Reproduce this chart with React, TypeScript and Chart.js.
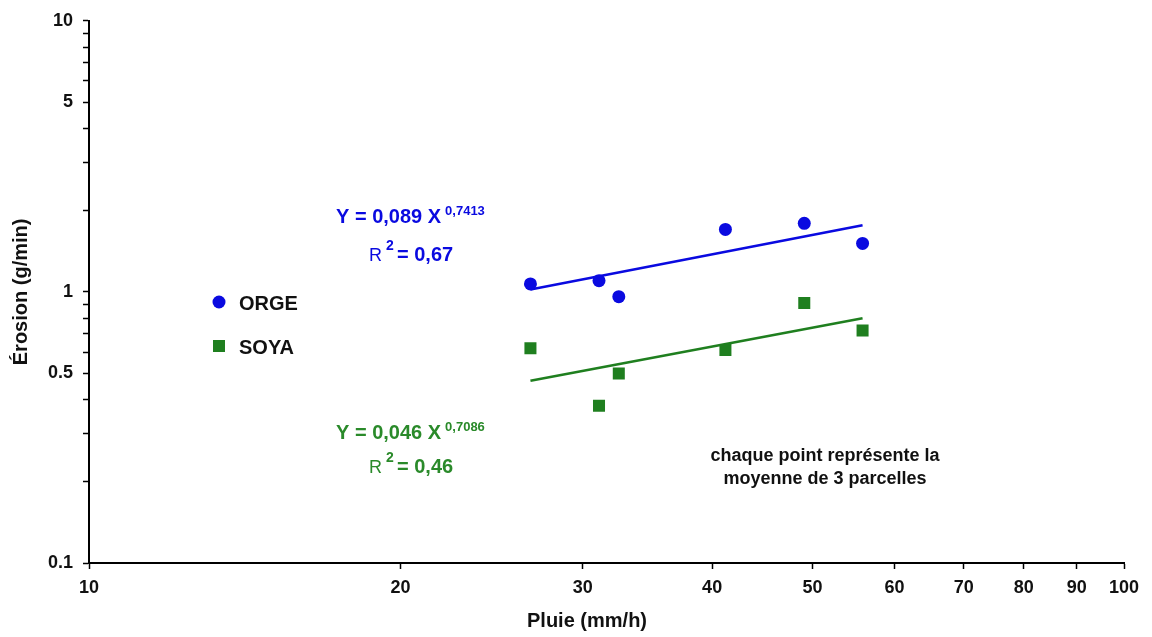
import React, { useEffect, useRef } from 'react';
import { Chart, registerables } from 'chart.js';

Chart.register(...registerables);

// ---- data ----
const rainX = [26.7, 31.1, 32.5, 41.2, 49.1, 55.9];
const orgeY = [1.07, 1.1, 0.96, 1.7, 1.79, 1.51];
const soyaY = [0.62, 0.38, 0.5, 0.61, 0.91, 0.72];
const fitX = [26.7, 55.9];
const orgeFitY = [1.02, 1.76];
const soyaFitY = [0.47, 0.8];
const xTickValues = [10, 20, 30, 40, 50, 60, 70, 80, 90, 100];
const yTickValues = [0.1, 0.2, 0.3, 0.4, 0.5, 0.6, 0.7, 0.8, 0.9, 1, 2, 3, 4, 5, 6, 7, 8, 9, 10];
const yTickLabels = [0.1, 0.5, 1, 5, 10];
const seriesNames = ['ORGE', 'SOYA'];
const orgeEquation = ['Y = 0,089 X', '0,7413', '= 0,67'];
const soyaEquation = ['Y = 0,046 X', '0,7086', '= 0,46'];
const noteLines = ['chaque point représente la', 'moyenne de 3 parcelles'];
const xTitle = 'Pluie (mm/h)';
const yTitle = 'Érosion (g/min)';

const BLUE = '#0a0ae0';
const GREEN = '#1f7f1f';
const GREEN_TEXT = '#2a8a2a';
const FONT = '"Liberation Sans", Arial, sans-serif';

const overlay = {
  id: 'overlay',
  afterDraw(chart: any) {
    const ctx = chart.ctx as CanvasRenderingContext2D;
    ctx.save();
    ctx.textAlign = 'left';
    ctx.textBaseline = 'middle';

    // legend
    ctx.fillStyle = BLUE;
    ctx.beginPath();
    ctx.arc(219, 302, 6.5, 0, Math.PI * 2);
    ctx.fill();
    ctx.fillStyle = GREEN;
    ctx.fillRect(213, 340, 12, 12);
    ctx.fillStyle = '#111';
    ctx.font = `bold 20px ${FONT}`;
    ctx.fillText(seriesNames[0], 239, 304);
    ctx.fillText(seriesNames[1], 239, 348);

    // equations
    const drawEq = (eq: string[], color: string, y1: number, y2: number) => {
      ctx.fillStyle = color;
      ctx.font = `bold 20px ${FONT}`;
      ctx.fillText(eq[0], 336, y1);
      const w = ctx.measureText(eq[0]).width;
      ctx.font = `bold 13px ${FONT}`;
      ctx.fillText(eq[1], 336 + w + 4, y1 - 6);
      ctx.font = `18px "Liberation Sans Narrow", ${FONT}`;
      ctx.fillText('R', 369, y2 + 1);
      ctx.font = `bold 14px ${FONT}`;
      ctx.fillText('2', 386, y2 - 9);
      ctx.font = `bold 20px ${FONT}`;
      ctx.fillText(eq[2], 397, y2);
    };
    drawEq(orgeEquation, BLUE, 217, 255);
    drawEq(soyaEquation, GREEN_TEXT, 433, 467);

    // note
    ctx.fillStyle = '#111';
    ctx.textAlign = 'center';
    ctx.font = `bold 18px ${FONT}`;
    ctx.fillText(noteLines[0], 825, 456);
    ctx.fillText(noteLines[1], 825, 479);

    // x title
    ctx.font = `bold 20px ${FONT}`;
    ctx.fillText(xTitle, 587, 621);
    ctx.restore();
  },
};

export default function App() {
  const ref = useRef<HTMLCanvasElement>(null);

  useEffect(() => {
    if (!ref.current) return;
    const near = (v: number, list: number[]) =>
      list.find((t) => Math.abs(v - t) / t < 1e-6);

    const chart = new Chart(ref.current, {
      type: 'scatter',
      data: {
        datasets: [
          {
            label: seriesNames[0],
            data: rainX.map((x, i) => ({ x, y: orgeY[i] })),
            backgroundColor: BLUE,
            borderColor: BLUE,
            pointStyle: 'circle',
            pointRadius: 6.5,
            pointBorderWidth: 0,
          },
          {
            label: seriesNames[1],
            data: rainX.map((x, i) => ({ x, y: soyaY[i] })),
            backgroundColor: GREEN,
            borderColor: GREEN,
            pointStyle: 'rect',
            pointRadius: 8.5,
            pointBorderWidth: 0,
          },
          {
            label: 'fit ORGE',
            data: fitX.map((x, i) => ({ x, y: orgeFitY[i] })),
            showLine: true,
            borderColor: BLUE,
            borderWidth: 2.5,
            pointRadius: 0,
          },
          {
            label: 'fit SOYA',
            data: fitX.map((x, i) => ({ x, y: soyaFitY[i] })),
            showLine: true,
            borderColor: GREEN,
            borderWidth: 2.5,
            pointRadius: 0,
          },
        ],
      },
      options: {
        animation: false,
        responsive: false,
        layout: { padding: { top: 20, right: 28, left: 0, bottom: 0 } },
        plugins: { legend: { display: false }, tooltip: { enabled: false } },
        scales: {
          x: {
            type: 'logarithmic',
            min: 10,
            max: 100,
            afterBuildTicks: (s: any) => {
              s.ticks = xTickValues.map((value) => ({ value }));
            },
            afterFit: (s: any) => {
              s.height = 74;
            },
            border: { display: true, color: '#000', width: 2 },
            grid: {
              display: true,
              drawOnChartArea: false,
              drawTicks: true,
              tickLength: 6,
              tickWidth: 1.5,
              tickColor: '#000',
            },
            ticks: {
              autoSkip: false,
              maxRotation: 0,
              padding: 8,
              color: '#111',
              font: { family: FONT, size: 18, weight: 'bold' },
              callback: (v: any) => String(v),
            },
          },
          y: {
            type: 'logarithmic',
            min: 0.1,
            max: 10,
            afterBuildTicks: (s: any) => {
              s.ticks = yTickValues.map((value) => ({ value }));
            },
            afterFit: (s: any) => {
              s.width = 89;
            },
            border: { display: true, color: '#000', width: 2 },
            grid: {
              display: true,
              drawOnChartArea: false,
              drawTicks: true,
              tickLength: 6,
              tickWidth: 1.5,
              tickColor: '#000',
            },
            ticks: {
              autoSkip: false,
              padding: 10,
              color: '#111',
              font: { family: FONT, size: 18, weight: 'bold' },
              callback: (v: any) => {
                const t = near(Number(v), yTickLabels);
                return t !== undefined ? String(t) : '';
              },
            },
            title: {
              display: true,
              text: yTitle,
              color: '#111',
              font: { family: FONT, size: 20, weight: 'bold' },
              padding: { top: 9, bottom: 0 },
            },
          },
        },
      },
      plugins: [overlay],
    } as any);
    return () => chart.destroy();
  }, []);

  return (
    <div style={{ position: 'absolute', left: 0, top: 0, width: 1152, height: 637, background: '#fff' }}>
      <canvas ref={ref} width={1152} height={637} style={{ display: 'block' }} />
    </div>
  );
}
